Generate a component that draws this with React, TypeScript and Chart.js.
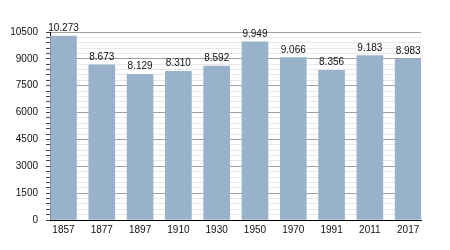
import React, { useEffect, useRef } from "react";
import { Chart, registerables } from "chart.js";

Chart.register(...registerables);

const years = ["1857", "1877", "1897", "1910", "1930", "1950", "1970", "1991", "2011", "2017"];
const population = [10273, 8673, 8129, 8310, 8592, 9949, 9066, 8356, 9183, 8983];
const yMax = 10500;
const yMajorStep = 1500;
const yMinorStep = 300;

const fmt = (v: number) => {
  const s = String(Math.round(v));
  return s.replace(/\B(?=(\d{3})+(?!\d))/g, ".");
};

const FONT = '"Liberation Sans", Arial, sans-serif';

const valueLabels = {
  id: "valueLabels",
  afterDatasetsDraw(chart: any) {
    const ctx = chart.ctx;
    const meta = chart.getDatasetMeta(0);
    ctx.save();
    ctx.font = `10px ${FONT}`;
    ctx.fillStyle = "#111";
    ctx.textAlign = "center";
    ctx.textBaseline = "alphabetic";
    meta.data.forEach((bar: any, i: number) => {
      ctx.fillText(fmt(population[i]), bar.x, bar.y - 5);
    });
    ctx.restore();
  },
};

export default function App() {
  const ref = useRef<HTMLCanvasElement>(null);
  useEffect(() => {
    document.body.style.margin = "0";
    const chart = new Chart(ref.current!, {
      type: "bar",
      data: {
        datasets: [
          {
            data: population.map((v, i) => ({ x: i, y: v })),
            backgroundColor: "#98b2cc",
            borderWidth: 0,
            barThickness: 26,
          },
        ],
      },
      options: {
        responsive: false,
        animation: false,
        layout: { padding: { top: 32, right: 29, bottom: 0, left: 0 } },
        plugins: { legend: { display: false }, tooltip: { enabled: false } },
        scales: {
          x: {
            type: "linear",
            offset: false,
            min: -0.352,
            max: 9.335,
            afterBuildTicks: (s: any) => {
              s.ticks = years.map((_, i) => ({ value: i }));
            },
            afterFit: (s: any) => {
              s.height = 30;
            },
            grid: { display: false, drawTicks: false, offset: false },
            border: { display: true, color: "#000", width: 1 },
            ticks: {
              autoSkip: false,
              maxRotation: 0,
              padding: 4,
              color: "#111",
              font: { family: FONT, size: 10 },
              callback: (v: any) => years[Math.round(v)] ?? "",
            },
          },
          y: {
            min: 0,
            max: yMax,
            afterFit: (s: any) => {
              s.width = 50;
            },
            border: { display: true, color: "#000", width: 1 },
            grid: {
              color: (c: any) =>
                c.tick && c.tick.value % yMajorStep === 0 ? "#a0a0a0" : "#e8e8e8",
              tickColor: "#444",
              tickLength: 4,
              drawTicks: true,
            },
            ticks: {
              stepSize: yMinorStep,
              maxTicksLimit: 100,
              autoSkip: false,
              padding: 8,
              color: "#111",
              font: { family: FONT, size: 10 },
              callback: (v: any) => (v % yMajorStep === 0 ? String(v) : ""),
            },
          },
        },
      },
      plugins: [valueLabels],
    } as any);
    return () => chart.destroy();
  }, []);
  return (
    <div style={{ position: "absolute", left: 0, top: 0, width: 450, height: 250 }}>
      <canvas ref={ref} width={450} height={250} />
    </div>
  );
}
